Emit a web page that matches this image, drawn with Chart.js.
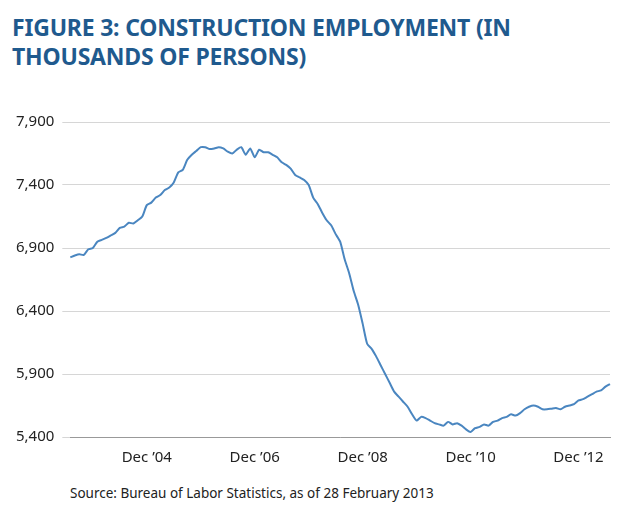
<!DOCTYPE html>
<html><head><meta charset="utf-8">
<script src="https://cdn.jsdelivr.net/npm/chart.js@4"></script>
<style>
body{margin:0;background:#fff;width:618px;height:513px;position:relative;font-family:"Noto Sans",sans-serif;}
#t{position:absolute;left:12px;top:13px;font-weight:bold;font-size:23px;line-height:29px;color:#1f5a8e;letter-spacing:-0.2px}
#s{position:absolute;left:70px;top:484px;font-size:13.5px;color:#222}
#w{position:absolute;left:0;top:105px;width:618px;height:366px}
</style></head><body>
<div id="t">FIGURE 3: CONSTRUCTION EMPLOYMENT (IN<br>THOUSANDS OF PERSONS)</div>
<div id="w"><canvas id="c"></canvas></div>
<div id="s">Source: Bureau of Labor Statistics, as of 28 February 2013</div>
<script>
const startYear = 2003, startMonth = 6; // July 2003 (0-based month)
const employment = [6826,6840,6850,6845,6890,6900,6950,6965,6980,7000,7020,7060,7070,7100,7095,7120,7150,7240,7260,7300,7320,7360,7380,7420,7500,7520,7600,7640,7670,7700,7700,7685,7690,7700,7690,7665,7650,7680,7700,7640,7690,7620,7680,7660,7660,7640,7620,7580,7560,7530,7480,7460,7440,7400,7300,7250,7180,7120,7080,7010,6950,6810,6700,6560,6450,6300,6140,6100,6040,5970,5900,5830,5760,5720,5680,5640,5580,5530,5560,5550,5530,5510,5500,5490,5520,5500,5510,5490,5460,5440,5470,5480,5500,5490,5520,5530,5550,5560,5580,5570,5590,5620,5640,5650,5640,5620,5620,5625,5630,5620,5640,5650,5660,5690,5700,5720,5740,5760,5770,5800,5820];
const yTicks = [5400,5900,6400,6900,7400,7900];
const tickYears = [2004,2006,2008,2010,2012];
const labels = employment.map((v,i)=>{const m=(startMonth+i)%12, y=startYear+Math.floor((startMonth+i)/12);return (m===11&&tickYears.includes(y))?"Dec \u2019"+String(y).slice(2):"";});
new Chart(document.getElementById('c'),{type:'line',
data:{labels,datasets:[{data:employment,borderColor:'#4a86c0',borderWidth:2,pointRadius:0,tension:0.2,fill:false}]},
options:{responsive:true,maintainAspectRatio:false,animation:false,
layout:{padding:{top:16,right:8,left:8,bottom:0}},
plugins:{legend:{display:false},tooltip:{enabled:false}},
scales:{
x:{grid:{display:false},border:{display:true,color:'#999'},ticks:{autoSkip:false,maxRotation:0,color:'#222',font:{size:15,family:'Noto Sans'},padding:4,callback:(v,i)=>labels[i]}},
y:{min:5400,max:7900,afterBuildTicks:a=>{a.ticks=yTicks.map(v=>({value:v}));},grid:{color:'#d6d6d6'},border:{display:false},ticks:{color:'#222',font:{size:15,family:'Noto Sans'},padding:8,callback:v=>v.toLocaleString('en-US')}}
}}});
</script></body></html>
